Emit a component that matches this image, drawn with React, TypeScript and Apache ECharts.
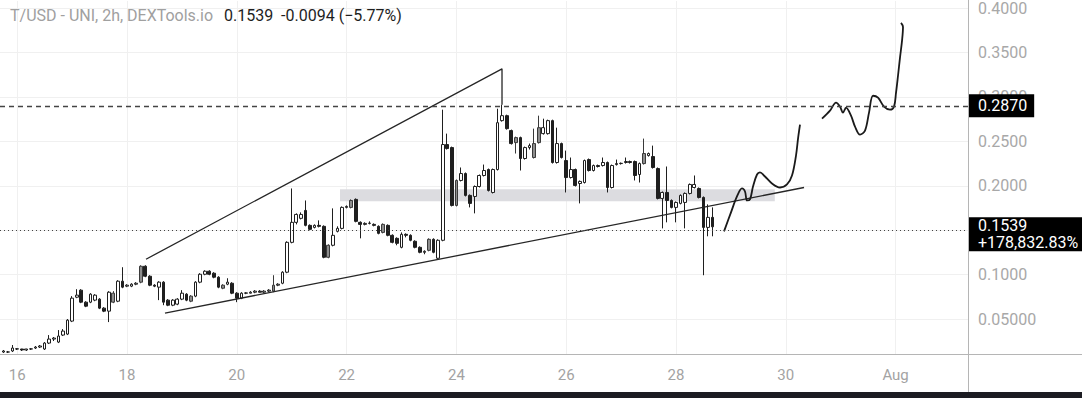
import React, { useEffect, useRef } from 'react';
import * as echarts from 'echarts';

// 2h candles, first one on Jul 15 18:00 (x axis = day of July)
const START_DAY = 15.75;
const STEP_DAY = 1 / 12;

// [open, close, low, high]
const candles: number[][] = [
  [0.0130, 0.0142, 0.0119, 0.0153], [0.0130, 0.0131, 0.0119, 0.0142], [0.0142, 0.0175, 0.0130, 0.0209],
  [0.0166, 0.0164, 0.0153, 0.0175], [0.0164, 0.0153, 0.0142, 0.0166], [0.0153, 0.0164, 0.0142, 0.0166],
  [0.0164, 0.0166, 0.0153, 0.0175], [0.0175, 0.0186, 0.0164, 0.0198], [0.0186, 0.0198, 0.0175, 0.0209],
  [0.0164, 0.0231, 0.0153, 0.0242], [0.0231, 0.0276, 0.0220, 0.0321], [0.0276, 0.0287, 0.0254, 0.0299],
  [0.0242, 0.0310, 0.0231, 0.0377], [0.0321, 0.0366, 0.0310, 0.0388], [0.0332, 0.0489, 0.0321, 0.0501],
  [0.0478, 0.0736, 0.0467, 0.0759], [0.0747, 0.0770, 0.0736, 0.0837], [0.0826, 0.0691, 0.0680, 0.0837],
  [0.0691, 0.0646, 0.0635, 0.0702], [0.0691, 0.0781, 0.0680, 0.0792], [0.0714, 0.0770, 0.0702, 0.0781],
  [0.0725, 0.0624, 0.0613, 0.0736], [0.0624, 0.0590, 0.0579, 0.0635], [0.0590, 0.0803, 0.0467, 0.0815],
  [0.0691, 0.0792, 0.0680, 0.0815], [0.0702, 0.0927, 0.0691, 0.0938], [0.0927, 0.0860, 0.0848, 0.1084],
  [0.0871, 0.0882, 0.0860, 0.0893], [0.0871, 0.0893, 0.0860, 0.0904], [0.0893, 0.0904, 0.0882, 0.0916],
  [0.0916, 0.1095, 0.0904, 0.1106], [0.1095, 0.0983, 0.0972, 0.1106], [0.0983, 0.0882, 0.0871, 0.0994],
  [0.0882, 0.0871, 0.0860, 0.0893], [0.0860, 0.0916, 0.0714, 0.0927], [0.0916, 0.0691, 0.0657, 0.0927],
  [0.0714, 0.0657, 0.0646, 0.0725], [0.0657, 0.0714, 0.0646, 0.0725], [0.0669, 0.0725, 0.0657, 0.0736],
  [0.0725, 0.0792, 0.0714, 0.0826], [0.0781, 0.0714, 0.0702, 0.0792], [0.0702, 0.0759, 0.0691, 0.0770],
  [0.0759, 0.0916, 0.0747, 0.0927], [0.0916, 0.1005, 0.0904, 0.1017], [0.1005, 0.1039, 0.0994, 0.1050],
  [0.1039, 0.1005, 0.0994, 0.1050], [0.1017, 0.0972, 0.0960, 0.1028], [0.0972, 0.0860, 0.0848, 0.0983],
  [0.0848, 0.0882, 0.0837, 0.0893], [0.0893, 0.0916, 0.0882, 0.0960], [0.0904, 0.0792, 0.0781, 0.0916],
  [0.0792, 0.0736, 0.0691, 0.0803], [0.0736, 0.0792, 0.0725, 0.0803], [0.0792, 0.0795, 0.0781, 0.0803],
  [0.0792, 0.0803, 0.0790, 0.0815], [0.0803, 0.0815, 0.0792, 0.0826], [0.0815, 0.0803, 0.0801, 0.0826],
  [0.0803, 0.0815, 0.0792, 0.0826], [0.0815, 0.0826, 0.0803, 0.0837], [0.0815, 0.0882, 0.0803, 0.0994],
  [0.0882, 0.0893, 0.0871, 0.0904], [0.0904, 0.1028, 0.0893, 0.1039], [0.1028, 0.1364, 0.1017, 0.1376],
  [0.1364, 0.1589, 0.1353, 0.1970], [0.1589, 0.1678, 0.1566, 0.1690], [0.1634, 0.1678, 0.1622, 0.1701],
  [0.1723, 0.1555, 0.1544, 0.1835], [0.1555, 0.1510, 0.1499, 0.1566], [0.1532, 0.1555, 0.1521, 0.1566],
  [0.1555, 0.1544, 0.1532, 0.1611], [0.1544, 0.1196, 0.1185, 0.1555], [0.1196, 0.1331, 0.1185, 0.1342],
  [0.1331, 0.1443, 0.1319, 0.1746], [0.1488, 0.1521, 0.1476, 0.1544], [0.1521, 0.1757, 0.1510, 0.1768],
  [0.1757, 0.1768, 0.1746, 0.1779], [0.1757, 0.1835, 0.1746, 0.1847], [0.1847, 0.1600, 0.1589, 0.1858],
  [0.1589, 0.1566, 0.1409, 0.1600], [0.1566, 0.1577, 0.1555, 0.1589], [0.1577, 0.1580, 0.1566, 0.1600],
  [0.1566, 0.1555, 0.1544, 0.1577], [0.1544, 0.1465, 0.1454, 0.1555], [0.1476, 0.1566, 0.1465, 0.1577],
  [0.1555, 0.1443, 0.1432, 0.1566], [0.1443, 0.1364, 0.1353, 0.1454], [0.1409, 0.1353, 0.1331, 0.1420],
  [0.1308, 0.1454, 0.1297, 0.1476], [0.1454, 0.1443, 0.1420, 0.1465], [0.1443, 0.1387, 0.1376, 0.1454],
  [0.1376, 0.1308, 0.1297, 0.1387], [0.1308, 0.1252, 0.1241, 0.1319], [0.1252, 0.1263, 0.1230, 0.1274],
  [0.1274, 0.1398, 0.1263, 0.1409], [0.1398, 0.1252, 0.1241, 0.1409], [0.1185, 0.1387, 0.1174, 0.1398],
  [0.1387, 0.2464, 0.1376, 0.2856], [0.2464, 0.2419, 0.2408, 0.2587], [0.2430, 0.1779, 0.1768, 0.2441],
  [0.1779, 0.2060, 0.1768, 0.2071], [0.2060, 0.2138, 0.2049, 0.2206], [0.2138, 0.1892, 0.1880, 0.2150],
  [0.1892, 0.1802, 0.1757, 0.1903], [0.1880, 0.1992, 0.1690, 0.2004], [0.1992, 0.2116, 0.1981, 0.2127],
  [0.2116, 0.2172, 0.2105, 0.2239], [0.2183, 0.1948, 0.1936, 0.2194], [0.1925, 0.2183, 0.1914, 0.2194],
  [0.2183, 0.2710, 0.2172, 0.2867], [0.2733, 0.2789, 0.2722, 0.2912], [0.2789, 0.2643, 0.2632, 0.2800],
  [0.2621, 0.2475, 0.2464, 0.2632], [0.2486, 0.2542, 0.2363, 0.2553], [0.2542, 0.2307, 0.2172, 0.2553],
  [0.2307, 0.2430, 0.2295, 0.2441], [0.2430, 0.2452, 0.2408, 0.2475], [0.2318, 0.2475, 0.2307, 0.2643],
  [0.2486, 0.2654, 0.2475, 0.2789], [0.2587, 0.2654, 0.2576, 0.2755], [0.2587, 0.2733, 0.2576, 0.2744],
  [0.2733, 0.2262, 0.2250, 0.2744], [0.2262, 0.2475, 0.2250, 0.2654], [0.2475, 0.2318, 0.2307, 0.2486],
  [0.2284, 0.2093, 0.1925, 0.2396], [0.2093, 0.2183, 0.2082, 0.2318], [0.2183, 0.2004, 0.1992, 0.2194],
  [0.2026, 0.2049, 0.1802, 0.2060], [0.2037, 0.2284, 0.2026, 0.2295], [0.2295, 0.2172, 0.2161, 0.2307],
  [0.2172, 0.2228, 0.2161, 0.2239], [0.2228, 0.2217, 0.2206, 0.2239], [0.2228, 0.2262, 0.2217, 0.2318],
  [0.2262, 0.1981, 0.1925, 0.2273], [0.1981, 0.2228, 0.1970, 0.2239], [0.2239, 0.2250, 0.2228, 0.2295],
  [0.2250, 0.2253, 0.2239, 0.2262], [0.2262, 0.2273, 0.2250, 0.2318], [0.2273, 0.2262, 0.2250, 0.2284],
  [0.2273, 0.2116, 0.2060, 0.2284], [0.2127, 0.2250, 0.2037, 0.2262], [0.2250, 0.2363, 0.2239, 0.2531],
  [0.2340, 0.2363, 0.2329, 0.2374], [0.2329, 0.2206, 0.2194, 0.2452], [0.2194, 0.1858, 0.1847, 0.2206],
  [0.1858, 0.1925, 0.1521, 0.1936], [0.1925, 0.1835, 0.1589, 0.2217], [0.1835, 0.1757, 0.1746, 0.1847],
  [0.1757, 0.1813, 0.1589, 0.1824], [0.1802, 0.1892, 0.1791, 0.1903], [0.1813, 0.1914, 0.1521, 0.1925],
  [0.1914, 0.2015, 0.1903, 0.2026], [0.1981, 0.2015, 0.1970, 0.2116], [0.1970, 0.1869, 0.1858, 0.1981],
  [0.1869, 0.1532, 0.0994, 0.1880], [0.1532, 0.1645, 0.1432, 0.1791], [0.1645, 0.1539, 0.1432, 0.1757],
];

// candle indices drawn in grey in the reference
const greyCandles = [24, 30, 41, 48, 59, 71, 76, 83, 93, 99, 112, 116, 117, 140];

const xTicks = [16, 18, 20, 22, 24, 26, 28, 30, 32];
const xTickLabels = ['16', '18', '20', '22', '24', '26', '28', '30', 'Aug'];
const yGridTicks = [0.05, 0.1, 0.15, 0.2, 0.25, 0.3, 0.35, 0.4];
// 0.1500 sits fully behind the last-price box in the reference, so it is not labelled
const yLabelTicks = [0.05, 0.1, 0.2, 0.25, 0.3, 0.35, 0.4];
const yTickLabels = ['0.05000', '0.1000', '0.2000', '0.2500', '0.3000', '0.3500', '0.4000'];

// drawings: [day, price]
const upperTrend = [[18.346, 0.1174], [24.831, 0.3316], [24.831, 0.2912]];
const lowerTrend = [[18.692, 0.0568], [30.332, 0.1981]];
const zoneBand = [[21.88, 0.196], [29.8, 0.1825]];
const resistance = 0.287;
const lastPrice = 0.1539;
const titleName = 'T/USD - UNI, 2h, DEXTools.io';
const titleQuote = '0.1539  -0.0094 (\u22125.77%)';
const totalChange = '+178,832.83%';

const projectionA = [
  [28.875, 0.1488], [29.002, 0.1701], [29.111, 0.188], [29.202, 0.197], [29.257, 0.1936],
  [29.294, 0.1835], [29.348, 0.1847], [29.403, 0.1992], [29.476, 0.2127], [29.53, 0.215],
  [29.621, 0.2105], [29.749, 0.2026], [29.895, 0.1981], [30.022, 0.2015], [30.113, 0.2116],
  [30.186, 0.234], [30.223, 0.2531], [30.259, 0.2688],
];
const projectionB = [
  [30.66, 0.2755], [30.805, 0.2845], [30.915, 0.2935], [30.988, 0.289], [31.042, 0.2823],
  [31.097, 0.2879], [31.188, 0.2789], [31.261, 0.2666], [31.352, 0.2576], [31.443, 0.2621],
  [31.516, 0.2823], [31.589, 0.3013], [31.68, 0.2991], [31.789, 0.289], [31.898, 0.2856],
  [31.971, 0.289], [32.008, 0.3047], [32.044, 0.3238], [32.08, 0.344], [32.117, 0.363],
  [32.135, 0.3787], [32.099, 0.3832],
];

const X_MIN = 15.687;
const X_MAX = 33.319;
const Y_MIN = 0.0108;
const Y_MAX = 0.4079;

const FONT = 'Roboto, "Noto Sans", sans-serif';

export default function App() {
  const ref = useRef<HTMLDivElement>(null);

  useEffect(() => {
    if (!ref.current) return;
    const chart = echarts.init(ref.current, undefined, { renderer: 'svg' });

    const candleData = candles.map((c, i) => {
      const item: any = { value: [START_DAY + i * STEP_DAY, c[0], c[1], c[2], c[3]] };
      if (greyCandles.includes(i)) {
        item.itemStyle = { color: '#8d8d8d', color0: '#8d8d8d', borderColor: '#3a3a3a', borderColor0: '#3a3a3a' };
      }
      return item;
    });

    const lineStyleDark = { color: '#262626', width: 1.3 };

    chart.setOption({
      animation: false,
      backgroundColor: '#ffffff',
      grid: { left: 0, right: 114, top: 0, bottom: 44, containLabel: false },
      xAxis: {
        type: 'value',
        min: X_MIN,
        max: X_MAX,
        axisLine: { show: false },
        axisTick: { show: false, customValues: xTicks },
        axisLabel: {
          customValues: xTicks,
          margin: 13,
          color: '#a3a3a3',
          fontSize: 15,
          fontFamily: '"Liberation Sans Narrow", Roboto, sans-serif',
          formatter: (v: number) => {
            const k = xTicks.findIndex((t) => Math.abs(t - v) < 1e-6);
            return k >= 0 ? xTickLabels[k] : '';
          },
        },
        splitLine: { show: true, lineStyle: { color: '#f0f0f0', width: 1 } },
      },
      yAxis: {
        type: 'value',
        position: 'right',
        min: Y_MIN,
        max: Y_MAX,
        scale: true,
        axisLine: { show: false },
        axisTick: { show: false, customValues: yGridTicks },
        axisLabel: {
          customValues: yLabelTicks,
          margin: 10,
          color: '#a8a8a8',
          fontSize: 16,
          fontFamily: FONT,
          formatter: (v: number) => {
            const k = yLabelTicks.findIndex((t) => Math.abs(t - v) < 1e-9);
            return k >= 0 ? yTickLabels[k] : '';
          },
        },
        splitLine: { show: true, lineStyle: { color: '#f0f0f0', width: 1 } },
      },
      series: [
        {
          type: 'line',
          name: 'zone',
          z: 1,
          data: [],
          markArea: {
            silent: true,
            itemStyle: { color: '#dcdce0', opacity: 1 },
            data: [[{ coord: zoneBand[0] }, { coord: zoneBand[1] }]],
          },
        },
        {
          type: 'candlestick',
          name: 'UNI',
          z: 3,
          barWidth: 3.2,
          data: candleData,
          itemStyle: {
            color: '#ffffff',
            color0: '#1f1f1f',
            borderColor: '#1f1f1f',
            borderColor0: '#1f1f1f',
            borderWidth: 1,
          },
        },
        {
          type: 'line',
          name: 'upper',
          z: 4,
          data: upperTrend,
          symbol: 'none',
          lineStyle: lineStyleDark,
          markLine: {
            silent: true,
            symbol: ['none', 'none'],
            data: [
              {
                yAxis: resistance,
                lineStyle: { color: '#444', width: 1.3, type: [5, 4] },
                label: {
                  show: true,
                  position: 'end',
                  distance: 0,
                  formatter: resistance.toFixed(4),
                  backgroundColor: '#000',
                  color: '#fff',
                  fontSize: 16,
                  fontFamily: FONT,
                  lineHeight: 17,
                  padding: [3, 7, 3, 10],
                },
              },
              {
                yAxis: lastPrice,
                lineStyle: { color: '#444', width: 1, type: [1, 3] },
                label: {
                  show: true,
                  position: 'end',
                  distance: 0,
                  offset: [0, 4],
                  formatter: lastPrice.toFixed(4) + '\n' + totalChange,
                  backgroundColor: '#000',
                  color: '#fff',
                  fontSize: 16,
                  fontFamily: FONT,
                  lineHeight: 17,
                  padding: [0, 4, 0, 10],
                  align: 'left',
                },
              },
            ],
          },
        },
        {
          type: 'line',
          name: 'lower',
          z: 4,
          data: lowerTrend,
          symbol: 'none',
          lineStyle: lineStyleDark,
        },
        {
          type: 'line',
          name: 'projA',
          z: 4,
          data: projectionA,
          symbol: 'none',
          smooth: 0.35,
          lineStyle: { color: '#1a1a1a', width: 1.8 },
        },
        {
          type: 'line',
          name: 'projB',
          z: 4,
          data: projectionB,
          symbol: 'none',
          smooth: 0.35,
          lineStyle: { color: '#1a1a1a', width: 1.8 },
        },
      ],
      graphic: [
        { type: 'line', z: 10, shape: { x1: 968.5, y1: 0, x2: 968.5, y2: 392 }, style: { stroke: '#b5b5b5', lineWidth: 1 } },
        { type: 'line', z: 10, shape: { x1: 0, y1: 354.5, x2: 1082, y2: 354.5 }, style: { stroke: '#b5b5b5', lineWidth: 1 } },
        { type: 'rect', z: 10, shape: { x: 0, y: 392, width: 1082, height: 6 }, style: { fill: '#1c1c22' } },
        {
          type: 'text', z: 10, x: 10, y: 15,
          style: { text: titleName, fill: '#a0a0a0', font: '16px ' + FONT, textVerticalAlign: 'middle' },
        },
        {
          type: 'text', z: 10, x: 224, y: 15,
          style: { text: titleQuote, fill: '#1e1e1e', font: '16px ' + FONT, textVerticalAlign: 'middle' },
        },
      ],
    });

    return () => chart.dispose();
  }, []);

  return (
    <div
      ref={ref}
      style={{ position: 'fixed', left: 0, top: 0, width: 1082, height: 398, background: '#fff' }}
    />
  );
}
